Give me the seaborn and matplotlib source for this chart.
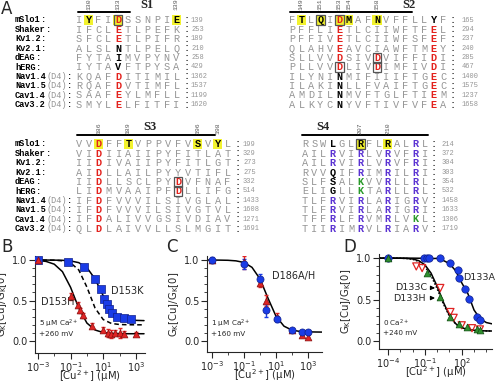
import numpy as np
import pandas as pd
import matplotlib
matplotlib.use("Agg")
import matplotlib.pyplot as plt
import seaborn as sns
from matplotlib.patches import Rectangle
from matplotlib.ticker import FixedLocator, LogFormatterMathtext, NullFormatter

sns.set_style("ticks")
plt.rcParams["font.family"] = ["DejaVu Sans"]
plt.rcParams["mathtext.default"] = "regular"

W, H = 496, 382

# ---------------- alignment data ----------------
names = ["mSlo1", "Shaker", "Kv1.2", "Kv2.1", "dEAG", "hERG",
         "Nav1.4", "Nav1.5", "Cav1.4", "Cav3.2"]
tags = ["", "", "", "", "", "", "(D4)", "(D4)", "(D4)", "(D4)"]

s1_seq = ["IYFIDSSNPIE", "IFCLETLPEFK", "SFCLETLPIFR", "ALSLNTLPELQ", "FYTAIMVPYNV",
          "IYTAVFTPYSA", "KQAFDITIMIL", "RQAFDVTIMFL", "SAAFEYLMFLL", "SMYLELFITFI"]
s1_sty = [".Y..R.....Y", "....r......", "....r......", "....k......", "....k......",
          "....k......", "....r......", "....r......", "....r......", "....r......"]
s1_end = [139, 253, 189, 210, 258, 429, 1362, 1537, 1199, 1620]
s1_box = [(0, 4)]
s1_top = {1: "130", 4: "133", 10: "139"}

s2_seq = ["FTLQIDMAFNVFFLLYF", "PFFLIETLCIIWFTFEL", "PFFIVETLCIIWFSFEF", "QLAHVEAVCIAWFTMEY",
          "SLLVVDSIVDVIFFIDI", "PLLVVDLIVDIMFIVDI", "ILYNINMIFIIIFTGEC", "ILAKINLLFVAIFTGEC",
          "AMDILNMVFTGLFTIEM", "ALKYCNYVFTIVFVFEA"]
s2_sty = [".Y.Y.RY..Y.....k.", ".....r.........r.", ".....r.........r.", ".....r.........r.",
          ".....r...r.....r.", ".....r...r.....r.", ".....k.........r.", ".....k.........r.",
          ".....k.........r.", ".....k.........r."]
s2_end = [165, 294, 237, 240, 285, 467, 1400, 1575, 1237, 1658]
s2_box = [(0, 3), (0, 5), (4, 9), (5, 5), (5, 9)]
s2_top = {1: "149", 3: "151", 5: "153", 6: "154", 9: "158"}

s3_seq = ["VVDFFTVPPVFVSVYL", "VIDIIAIIPYFITLAT", "IIDIVAIIPYFITLGT", "AIDLLAILPYYVTIFL",
          "IIDLLSCLPYDVFNAF", "LIDMVAAIPFDLLIFG", "IFDFVVVILSIVGLAL", "IFDFVVVILSIVGTVL",
          "IFDALIVVGSIVDIAV", "QLDLAIVVLLSLMGIT"]
s3_sty = ["..R..Y......Y.Y.", "..r.............", "..r.............", "..r.............",
          "..r.......r.....", "..r.......r.....", "..r.............", "..r.............",
          "..r.............", "..r............."]
s3_end = [199, 329, 273, 275, 332, 514, 1433, 1608, 1271, 1691]
s3_box = [(4, 10), (5, 10)]
s3_top = {2: "186", 5: "189", 12: "196", 14: "198"}

s4_seq = ["RSWLGLRFLRALRL", "AILRVIRLVRVFRI", "AILRVIRLVRVFRI", "RVVQIFRIMRILRI",
          "SLFSALKVVRLLRL", "ELIGLLKTARLLRL", "TLFRVIRLARIGRV", "TLFRVIRLARIGRI",
          "TFFRLFRVMRLVKL", "TIIRIMRVLRIARV"]
s4_sty = ["...k..Y..Y..b.", "...b..b..b..b.", "...b..b..b..b.", "...k..b..b..b.",
          "...k..g..b..b.", "...k..g..b..b.", "...b..b..b..b.", "...b..b..b..b.",
          "...b..b..b..g.", "...b..b..b..b."]
s4_end = [214, 372, 304, 303, 354, 532, 1458, 1633, 1306, 1719]
s4_box = [(0, 6)]
s4_top = {6: "207", 9: "210"}

# ---------------- dose-response data ----------------
# panel B
b_k_x = [0.001, 0.07, 0.7, 3, 7, 11, 16, 22, 35, 70, 180, 500]
b_k_y = [1.0, 0.97, 0.92, 0.76, 0.64, 0.52, 0.46, 0.40, 0.35, 0.30, 0.28, 0.27]
b_h_x = [0.001, 0.1, 0.3, 0.4, 0.6, 2, 10, 20, 30, 50, 100, 200, 1000]
b_h_y = [1.0, 0.55, 0.45, 0.38, 0.32, 0.19, 0.14, 0.10, 0.09, 0.10, 0.10, 0.09, 0.09]
b_h_e = [0.0, 0.04, 0.03, 0.03, 0.03, 0.03, 0.03, 0.05, 0.05, 0.03, 0.06, 0.03, 0.02]
b_fit_logx = [-3.2, -3, -2.5, -2, -1.5, -1, -0.5, 0, 0.5, 1, 1.5, 2, 2.5, 3, 3.5]
b_fit_k = [1.0, 1.0, 1.0, 0.999, 0.997, 0.989, 0.968, 0.906, 0.767, 0.559, 0.386, 0.299, 0.266, 0.255, 0.252]
b_fit_h = [0.997, 0.995, 0.983, 0.949, 0.857, 0.663, 0.408, 0.222, 0.136, 0.105, 0.095, 0.092, 0.090, 0.090, 0.090]
b_fit_wt = [1.0, 1.0, 0.999, 0.998, 0.991, 0.965, 0.878, 0.666, 0.407, 0.265, 0.217, 0.204, 0.201, 0.200, 0.200]

# panel C
c_a_x = [0.001, 0.1, 1, 2.3, 12, 100, 400, 1000]
c_a_y = [1.0, 0.95, 0.77, 0.38, 0.27, 0.13, 0.11, 0.11]
c_a_e = [0.04, 0.06, 0.06, 0.08, 0.04, 0.02, 0.02, 0.02]
c_h_x = [0.001, 0.1, 1, 2.3, 12, 100, 400, 1000]
c_h_y = [1.0, 0.97, 0.72, 0.50, 0.30, 0.13, 0.08, 0.05]
c_h_e = [0.03, 0.08, 0.05, 0.07, 0.04, 0.02, 0.02, 0.02]
c_fit_logx = [-3.3, -3, -2.5, -2, -1.5, -1, -0.5, 0, 0.5, 1, 1.5, 2, 2.5, 3, 3.5, 3.9]
c_fit_y = [1.0, 1.0, 0.999, 0.997, 0.990, 0.970, 0.910, 0.767, 0.529, 0.306, 0.183, 0.134, 0.118, 0.113, 0.111, 0.110]

# panel D
d_a_x = [0.0001, 0.08, 0.15, 0.2, 1.8, 12, 46, 56, 170, 360, 1700, 3000]
d_a_y = [1.0, 1.0, 1.0, 1.0, 1.0, 0.94, 0.86, 0.76, 0.63, 0.51, 0.29, 0.25]
d_c_x = [0.02, 0.06, 1.8, 12, 22, 100, 680, 3000]
d_c_y = [0.90, 0.88, 0.64, 0.35, 0.28, 0.19, 0.155, 0.14]
d_h_x = [0.0001, 0.15, 1.8, 12, 56, 260, 1700, 3000]
d_h_y = [1.0, 0.82, 0.53, 0.29, 0.21, 0.17, 0.14, 0.13]
d_fit_logx = [-4.7, -4, -3.5, -3, -2.5, -2, -1.5, -1, -0.5, 0, 0.5, 1, 1.5, 2, 2.5, 3, 3.5, 4, 4.45]
d_fit_a = [1.0, 1.0, 1.0, 1.0, 1.0, 1.0, 0.999, 0.998, 0.995, 0.997, 0.972, 0.934, 0.849, 0.702, 0.571, 0.374, 0.267, 0.223, 0.208]
d_fit_c = [1.0, 1.0, 1.0, 0.999, 0.997, 0.99, 0.97, 0.92, 0.82, 0.66, 0.47, 0.31, 0.21, 0.16, 0.14, 0.13, 0.125, 0.122, 0.121]
d_fit_h = [1.0, 1.0, 1.0, 0.999, 0.996, 0.987, 0.96, 0.9, 0.79, 0.63, 0.45, 0.30, 0.205, 0.16, 0.14, 0.13, 0.125, 0.122, 0.121]

# ---------------- figure ----------------
fig = plt.figure(figsize=(W / 100, H / 100), dpi=100)
ax0 = fig.add_axes([0, 0, 1, 1])
ax0.set_xlim(0, W)
ax0.set_ylim(H, 0)
ax0.axis("off")

GRAY = "#959595"
RED = "#e3211c"
BLUE = "#5a32d2"
GREEN = "#2a9a2a"
YEL = "#f2f22e"
MONO = "Liberation Mono"
RES_FS = 7.4
NAME_FS = 6.2

col_of = {".": GRAY, "k": "black", "r": RED, "b": BLUE, "g": GREEN, "Y": "black", "R": RED}


def draw_block(seqs, stys, ends, boxes, tops, x0, dx, y0, dy, xnum, title, tx, ty, lx0, lx1, ly,
               with_names):
    cw = 0.6 * NAME_FS * 100 / 72
    for i, (s, st) in enumerate(zip(seqs, stys)):
        y = y0 + i * dy
        if with_names:
            ax0.text(15, y, names[i], family=MONO, fontsize=NAME_FS, weight="bold", va="center",
                     ha="left", color="black")
            if tags[i]:
                ax0.text(15 + cw * len(names[i]), y, tags[i], family=MONO, fontsize=NAME_FS,
                         va="center", ha="left", color=GRAY)
            ax0.text(15 + cw * (len(names[i]) + len(tags[i])), y, ":", family=MONO,
                     fontsize=NAME_FS, weight="bold", va="center", ha="left", color="black")
        for j, (ch, c) in enumerate(zip(s, st)):
            x = x0 + j * dx
            if c in "YR":
                ax0.add_patch(Rectangle((x - 4.6, y - 5.2), 9.2, 10.4, facecolor=YEL,
                                        edgecolor="none", zorder=1))
            ax0.text(x, y + 0.3, ch, family=MONO, fontsize=RES_FS,
                     weight="normal" if c == "." else "bold", color=col_of[c],
                     ha="center", va="center", zorder=3)
        ax0.text(x0 + len(s) * dx, y, ":", family=MONO, fontsize=RES_FS, weight="bold",
                 ha="center", va="center", color="#444444")
        ax0.text(xnum, y, str(ends[i]), family=MONO, fontsize=5.0, ha="left", va="center",
                 color=GRAY)
    for (r, p) in boxes:
        ax0.add_patch(Rectangle((x0 + p * dx - 4.4, y0 + r * dy - 5.0), 8.8, 10.0,
                                facecolor="none", edgecolor="#555555", lw=0.9, zorder=4))
    for p, lab in tops.items():
        ax0.text(x0 + p * dx, ly - 1.5, lab, family=MONO, fontsize=4.6, rotation=90,
                 ha="center", va="bottom", color="#555555")
    ax0.plot([lx0, lx1], [ly, ly], color="black", lw=1.4)
    ax0.text(tx, ty, title, family="Liberation Serif", fontsize=9, weight="bold",
             ha="center", va="center")


draw_block(s1_seq, s1_sty, s1_end, s1_box, s1_top, 79, 9.75, 20, 9.4, 191,
           "S1", 147, 5, 78, 130, 12, True)
draw_block(s2_seq, s2_sty, s2_end, s2_box, s2_top, 292, 9.45, 20, 9.4, 462,
           "S2", 409, 5, 290, 412, 12, False)
draw_block(s3_seq, s3_sty, s3_end, s3_box, s3_top, 79, 9.9, 144, 9.4, 243,
           "S3", 150, 127, 77, 215, 135, True)
draw_block(s4_seq, s4_sty, s4_end, s4_box, s4_top, 305, 9.2, 144, 9.4, 442,
           "S4", 323, 127, 302, 428, 135, False)

for lab, (x, y) in {"A": (1, 9), "B": (1, 247), "C": (166, 247), "D": (343, 247)}.items():
    ax0.text(x, y, lab, fontsize=12, ha="left", va="center", family="DejaVu Sans")


def px_axes(left, right, top, bottom):
    return fig.add_axes([left / W, 1 - bottom / H, (right - left) / W, (bottom - top) / H])


def setup(ax, logx0, logx1, y0, y1, majors, minors):
    ax.set_xscale("log")
    ax.set_xlim(10 ** logx0, 10 ** logx1)
    ax.set_ylim(y0, y1)
    ax.xaxis.set_major_locator(FixedLocator([10.0 ** m for m in majors]))
    ax.xaxis.set_minor_locator(FixedLocator([10.0 ** m for m in minors]))
    ax.xaxis.set_major_formatter(LogFormatterMathtext())
    ax.xaxis.set_minor_formatter(NullFormatter())
    ax.set_yticks([0, 0.5, 1.0])
    ax.set_yticklabels(["0.0", "0.5", "1.0"])
    ax.yaxis.set_minor_locator(FixedLocator(np.round(np.arange(0, 1.01, 0.1), 2)))
    sns.despine(ax=ax)
    ax.patch.set_alpha(0)
    ax.tick_params(which="major", length=4, width=0.8, labelsize=7.0, pad=1.5)
    ax.tick_params(which="minor", length=2, width=0.6)
    for s in ax.spines.values():
        s.set_linewidth(0.8)


def labels(ax, h):
    ax.set_ylabel("$G_K[Cu]/G_K[0]$", fontsize=7.2, labelpad=2)
    ax.set_xlabel("[Cu$^{2+}$] ($\\mu$M)", fontsize=7.2)
    ax.xaxis.set_label_coords(0.5, -15.5 / h)


BLU = "#1a3ce6"
RD = "#e02424"
GRN = "#2f8f2f"

# ---- B ----
axB = px_axes(35, 145, 256, 353)
setup(axB, -3.18, 3.56, -0.148, 1.05, [-3, -1, 1, 3], [-2, 0, 2])
dfb = pd.DataFrame({"x": [10 ** v for v in b_fit_logx], "k": b_fit_k, "h": b_fit_h, "wt": b_fit_wt})
sns.lineplot(data=dfb, x="x", y="k", ax=axB, color="black", lw=1.1, estimator=None)
sns.lineplot(data=dfb, x="x", y="h", ax=axB, color="black", lw=1.1, estimator=None)
sns.lineplot(data=dfb, x="x", y="wt", ax=axB, color="black", lw=1.1, estimator=None,
             linestyle=(0, (3, 2)))
axB.errorbar(b_h_x, b_h_y, yerr=b_h_e, fmt="none", ecolor=RD, elinewidth=1, capsize=1.5, zorder=3)
sns.scatterplot(x=b_k_x, y=b_k_y, ax=axB, marker="s", s=26, color=BLU, edgecolor="#10208a",
                linewidth=0.5, zorder=4)
sns.scatterplot(x=b_h_x, y=b_h_y, ax=axB, marker="^", s=24, color=RD, edgecolor="#8a1010",
                linewidth=0.5, zorder=5)
labels(axB, 97)
axB.text(10 ** 1.45, 0.58, "D153K", fontsize=7.0)
axB.text(10 ** -2.8, 0.45, "D153H", fontsize=7.0)
axB.text(10 ** -2.95, 0.17, "5 $\\mu$M Ca$^{2+}$\n+260 mV", fontsize=5.2, va="center", linespacing=1.2)

# ---- C ----
axC = px_axes(207, 322, 256, 352)
setup(axC, -3.31, 3.875, -0.136, 1.05, [-3, -1, 1, 3], [-2, 0, 2])
dfc = pd.DataFrame({"x": [10 ** v for v in c_fit_logx], "y": c_fit_y})
sns.lineplot(data=dfc, x="x", y="y", ax=axC, color="black", lw=1.1, estimator=None)
axC.errorbar(c_h_x, c_h_y, yerr=c_h_e, fmt="none", ecolor=RD, elinewidth=1, capsize=1.5, zorder=3)
axC.errorbar(c_a_x, c_a_y, yerr=c_a_e, fmt="none", ecolor=BLU, elinewidth=1, capsize=1.5, zorder=3)
sns.scatterplot(x=c_h_x, y=c_h_y, ax=axC, marker="^", s=24, color=RD, edgecolor="#8a1010",
                linewidth=0.5, zorder=4)
sns.scatterplot(x=c_a_x, y=c_a_y, ax=axC, marker="o", s=26, color=BLU, edgecolor="#10208a",
                linewidth=0.5, zorder=5)
labels(axC, 96)
axC.text(10 ** 0.75, 0.76, "D186A/H", fontsize=7.0)
axC.text(10 ** -3.05, 0.17, "1 $\\mu$M Ca$^{2+}$\n+160 mV", fontsize=5.2, va="center", linespacing=1.2)

# ---- D ----
axD = px_axes(379, 492, 254, 349)
setup(axD, -4.73, 4.46, -0.096, 1.05, [-4, -1, 2], [-3, -2, 0, 1, 3, 4])
dfd = pd.DataFrame({"x": [10 ** v for v in d_fit_logx], "a": d_fit_a, "c": d_fit_c, "h": d_fit_h})
sns.lineplot(data=dfd, x="x", y="a", ax=axD, color="black", lw=1.1, estimator=None)
sns.lineplot(data=dfd, x="x", y="c", ax=axD, color="black", lw=1.1, estimator=None)
sns.lineplot(data=dfd, x="x", y="h", ax=axD, color="black", lw=1.1, estimator=None,
             linestyle=(0, (1, 1.2)))
sns.scatterplot(x=d_a_x, y=d_a_y, ax=axD, marker="o", s=28, color=BLU, edgecolor="#10208a",
                linewidth=0.5, zorder=4)
sns.scatterplot(x=d_c_x, y=d_c_y, ax=axD, marker="v", s=26, facecolor="none", edgecolor=RD,
                linewidth=0.9, zorder=5)
sns.scatterplot(x=d_h_x, y=d_h_y, ax=axD, marker="^", s=24, color=GRN, edgecolor="#0f4f0f",
                linewidth=0.5, zorder=6)
labels(axD, 95)
axD.text(10 ** 2.15, 0.77, "D133A", fontsize=6.8, va="center")
axD.annotate("D133C", xy=(10 ** 0.05, 0.64), xytext=(10 ** -3.4, 0.645), fontsize=6.8, va="center",
             arrowprops=dict(arrowstyle="-|>", color="black", lw=0.8, mutation_scale=6))
axD.annotate("D133H", xy=(10 ** 0.05, 0.52), xytext=(10 ** -3.6, 0.515), fontsize=6.8, va="center",
             arrowprops=dict(arrowstyle="-|>", color="black", lw=0.8, mutation_scale=6))
axD.text(10 ** -4.4, 0.17, "0 Ca$^{2+}$\n+240 mV", fontsize=5.2, va="center", linespacing=1.2)

fig.savefig("out.png", dpi=100)
